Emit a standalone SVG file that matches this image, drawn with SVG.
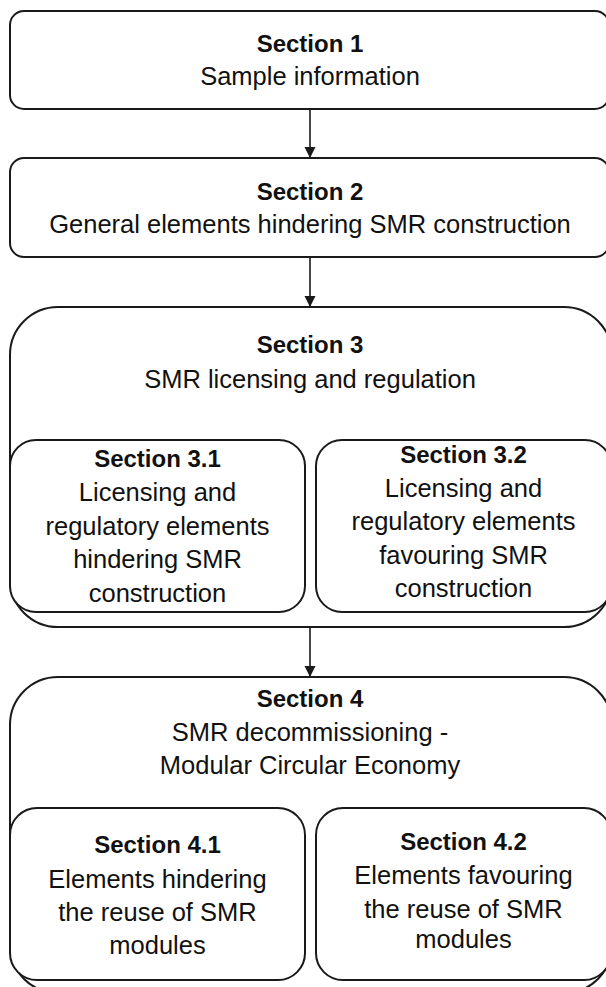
<svg xmlns="http://www.w3.org/2000/svg" width="606" height="987" viewBox="0 0 606 987">
<style>
.box{fill:#fff;stroke:#1a1a1a;stroke-width:2}
.t{font-family:"Liberation Sans",Arial,sans-serif;font-size:25.5px;fill:#111;text-anchor:middle}
.b{font-weight:bold;font-size:24px}
.conn{stroke:#1a1a1a;stroke-width:1.6;fill:none}
</style>
<defs>
<marker id="arr" markerUnits="userSpaceOnUse" markerWidth="12" markerHeight="12" viewBox="0 0 12 12" refX="11" refY="6" orient="auto">
<path d="M0,0.5 L11,6 L0,11.5 Z" fill="#1a1a1a"/>
</marker>
</defs>
<rect width="606" height="987" fill="#fff"/>
<g id="connectors">
<line class="conn" x1="310" y1="109" x2="310" y2="158" marker-end="url(#arr)"/>
<line class="conn" x1="310" y1="257" x2="310" y2="307" marker-end="url(#arr)"/>
<line class="conn" x1="310" y1="627" x2="310" y2="677" marker-end="url(#arr)"/>
</g>
<g id="section1">
<rect class="box" x="10" y="11" width="599" height="98" rx="14"/>
<text class="t b" x="310" y="52">Section 1</text>
<text class="t" x="310" y="85">Sample information</text>
</g>
<g id="section2">
<rect class="box" x="10" y="158" width="599" height="99" rx="14"/>
<text class="t b" x="310" y="200">Section 2</text>
<text class="t" x="310" y="233">General elements hindering SMR construction</text>
</g>
<g id="section3">
<rect class="box" x="10" y="307" width="602" height="320" rx="48"/>
<text class="t b" x="310" y="353">Section 3</text>
<text class="t" x="310" y="388">SMR licensing and regulation</text>
</g>
<g id="section3_1">
<rect class="box" x="10" y="440" width="295" height="172" rx="26"/>
<text class="t b" x="157.5" y="467">Section 3.1</text>
<text class="t" x="157.5" y="501">Licensing and</text>
<text class="t" x="157.5" y="534.5">regulatory elements</text>
<text class="t" x="157.5" y="568">hindering SMR</text>
<text class="t" x="157.5" y="601.5">construction</text>
</g>
<g id="section3_2">
<rect class="box" x="316" y="440" width="295" height="172" rx="26"/>
<text class="t b" x="463.5" y="463">Section 3.2</text>
<text class="t" x="463.5" y="497">Licensing and</text>
<text class="t" x="463.5" y="530">regulatory elements</text>
<text class="t" x="463.5" y="563.5">favouring SMR</text>
<text class="t" x="463.5" y="597">construction</text>
</g>
<g id="section4">
<rect class="box" x="10" y="677" width="602" height="316" rx="48"/>
<text class="t b" x="310" y="707">Section 4</text>
<text class="t" x="310" y="741">SMR decommissioning -</text>
<text class="t" x="310" y="774">Modular Circular Economy</text>
</g>
<g id="section4_1">
<rect class="box" x="10" y="808" width="295" height="172" rx="27"/>
<text class="t b" x="157.5" y="853">Section 4.1</text>
<text class="t" x="157.5" y="888">Elements hindering</text>
<text class="t" x="157.5" y="921">the reuse of SMR</text>
<text class="t" x="157.5" y="954">modules</text>
</g>
<g id="section4_2">
<rect class="box" x="316" y="808" width="295" height="172" rx="27"/>
<text class="t b" x="463.5" y="850">Section 4.2</text>
<text class="t" x="463.5" y="884">Elements favouring</text>
<text class="t" x="463.5" y="917.5">the reuse of SMR</text>
<text class="t" x="463.5" y="948">modules</text>
</g>
</svg>
